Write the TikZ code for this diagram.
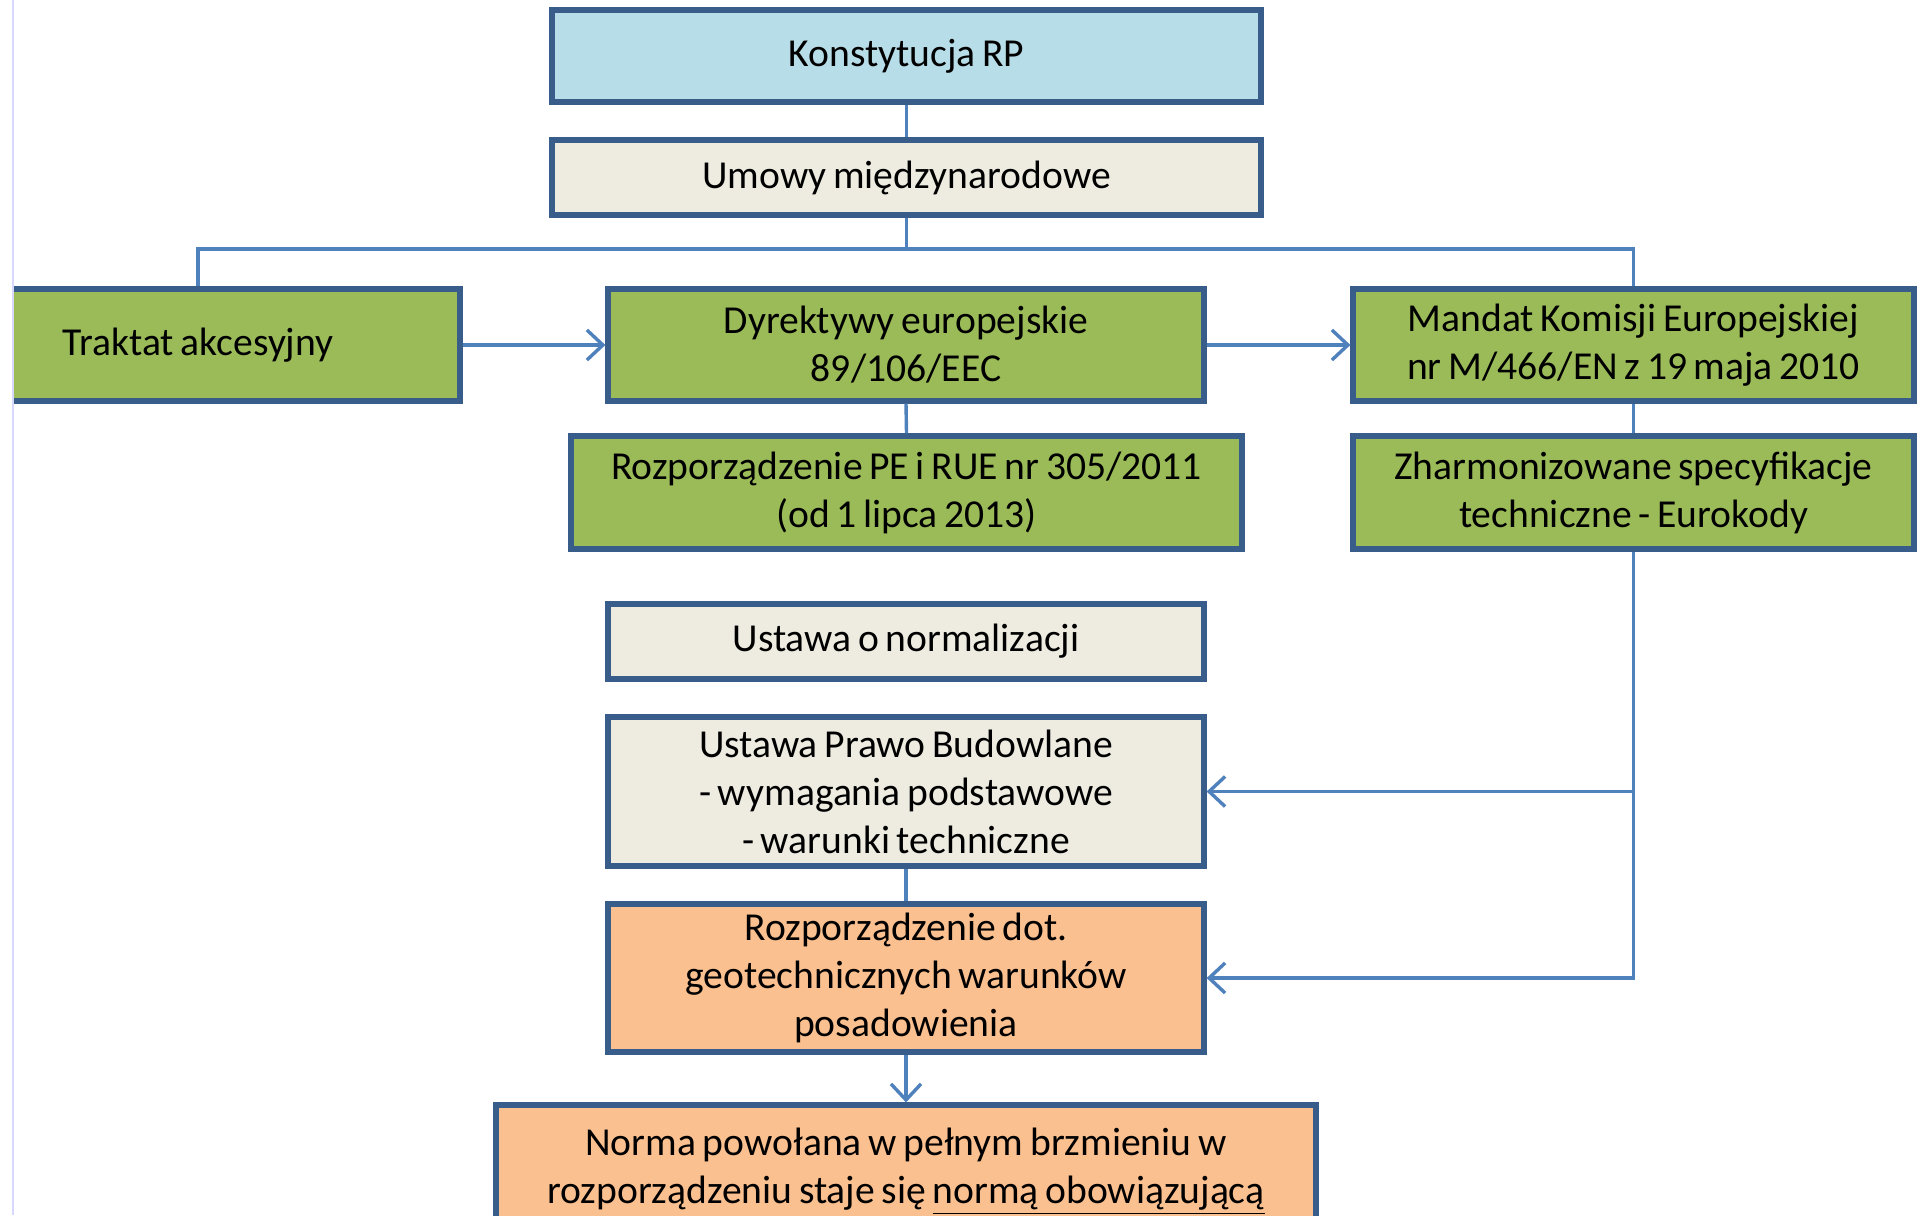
\documentclass[tikz,border=0pt]{standalone}
\usepackage{fontspec}
\setmainfont{Carlito}[WordSpace=0.75]
\usetikzlibrary{arrows.meta,positioning}
\definecolor{bordc}{RGB}{56,93,138}
\definecolor{linec}{RGB}{79,129,189}
\definecolor{blueb}{RGB}{183,221,232}
\definecolor{beigeb}{RGB}{238,236,225}
\definecolor{greenb}{RGB}{155,187,89}
\definecolor{orangeb}{RGB}{250,192,144}
\definecolor{edgec}{RGB}{216,216,255}

\begin{document}
\begin{tikzpicture}[x=0.5pt,y=-0.5pt,
  box/.style={draw=bordc,line width=2.6pt,align=center,inner sep=0pt,
    font=\fontsize{19.8}{24}\selectfont},
  conn/.style={draw=linec,line width=1.7pt},
  arr/.style={conn,-{Straight Barb[length=8pt,width=15pt]}}
]
\fill[white] (0,0) rectangle (1925,1215);
\useasboundingbox (0,0) rectangle (1925,1215);

\begin{scope}
\clip (13,0) rectangle (1925,1215);

% top of the tree
\node[box,fill=blueb,minimum width=354.5pt,minimum height=46pt] (konst) at (906.5,56) {Konstytucja RP};
\node[box,fill=beigeb,minimum width=354.5pt,minimum height=37.5pt] (umowy) at (906.5,177.5) {Umowy międzynarodowe};
\coordinate (split) at (906.5,249);

% green row
\node[box,fill=greenb,minimum width=262pt,minimum height=56pt] (trakt) at (198,345) {Traktat akcesyjny};
\node[box,fill=greenb,minimum width=298pt,minimum height=56pt] (dyrekt) at (906,345) {Dyrektywy europejskie\\89/106/EEC};
\node[box,fill=greenb,minimum width=280.5pt,minimum height=56pt] (mandat) at (1633.5,345) {Mandat Komisji Europejskiej\\nr M/466/EN z 19 maja 2010};
\node[box,fill=greenb,minimum width=335.5pt,minimum height=56.5pt] (rozpPE) at (906.5,492.5) {Rozporządzenie PE i RUE nr 305/2011\\(od 1 lipca 2013)};
\node[box,fill=greenb,minimum width=280.5pt,minimum height=56.5pt] (zharm) at (1633.5,492.5) {Zharmonizowane specyfikacje\\techniczne - Eurokody};

% national law
\node[box,fill=beigeb,minimum width=298pt,minimum height=37.5pt] (normaliz) at (906,641.5) {Ustawa o normalizacji};
\node[box,fill=beigeb,minimum width=298pt,minimum height=74.5pt] (prawo) at (906,791.5) {Ustawa Prawo Budowlane\\- wymagania podstawowe\\- warunki techniczne};
\node[box,fill=orangeb,minimum width=298pt,minimum height=74pt] (rozpGeo) at (906,978) {Rozporządzenie dot.\\geotechnicznych warunków\\posadowienia};
\node[box,fill=orangeb,minimum width=410pt,minimum height=66pt] (norma) at (906,1171) {Norma powołana w pełnym brzmieniu w\\rozporządzeniu staje się \underline{normą obowiązującą}};

\draw[conn] (konst.south) -- (umowy.north);
\draw[conn] (umowy.south) -- (split);
\draw[conn] (split) -| (trakt.north);
\draw[conn] (split) -| (mandat.north);
\draw[arr] (trakt.east) -- (dyrekt.west);
\draw[arr] (dyrekt.east) -- (mandat.west);
\draw[conn] (dyrekt.south) -- (rozpPE.north);
\draw[conn] (mandat.south) -- (zharm.north);
\draw[arr] (zharm.south) |- (prawo.east);
\draw[arr] (zharm.south) |- (rozpGeo.east);
\draw[conn] (prawo.south) -- (rozpGeo.north);
\draw[arr] (rozpGeo.south) -- (norma.north);
\end{scope}

\draw[edgec,line width=1pt] (12.5,0) -- (12.5,1215);
\end{tikzpicture}
\end{document}
